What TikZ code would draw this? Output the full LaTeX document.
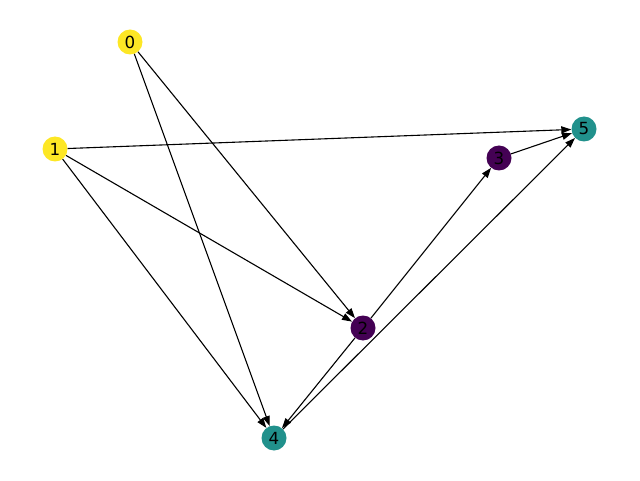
\documentclass[tikz,border=0pt]{standalone}
\usepackage{fontspec}
\setmainfont{DejaVu Sans}
\usetikzlibrary{arrows.meta}
\definecolor{vyel}{HTML}{FDE725}
\definecolor{vpur}{HTML}{440154}
\definecolor{vtea}{HTML}{21918C}
\begin{document}
\begin{tikzpicture}[x=1pt,y=1pt,
  vtx/.style={circle,inner sep=0pt,minimum size=25pt,font=\fontsize{16.7}{18}\selectfont},
  edge/.style={-{Stealth[length=10pt,width=7pt,inset=0pt]},line width=1.1pt,shorten >=0pt}]
\useasboundingbox (0,0) rectangle (640,480);
\node[vtx,fill=vyel] (n0) at (130,438) {0};
\node[vtx,fill=vyel] (n1) at (55,331) {1};
\node[vtx,fill=vpur] (n2) at (363,152) {2};
\node[vtx,fill=vpur] (n3) at (499,322) {3};
\node[vtx,fill=vtea] (n4) at (274,42) {4};
\node[vtx,fill=vtea] (n5) at (584,351) {5};
\draw[edge] (n0) -- (n2);
\draw[edge] (n0) -- (n4);
\draw[edge] (n1) -- (n5);
\draw[edge] (n1) -- (n2);
\draw[edge] (n1) -- (n4);
\draw[edge] (n2) -- (n3);
\draw[edge] (n2) -- (n4);
\draw[edge] (n4) -- (n5);
\draw[edge] (n3) -- (n5);
\end{tikzpicture}
\end{document}
